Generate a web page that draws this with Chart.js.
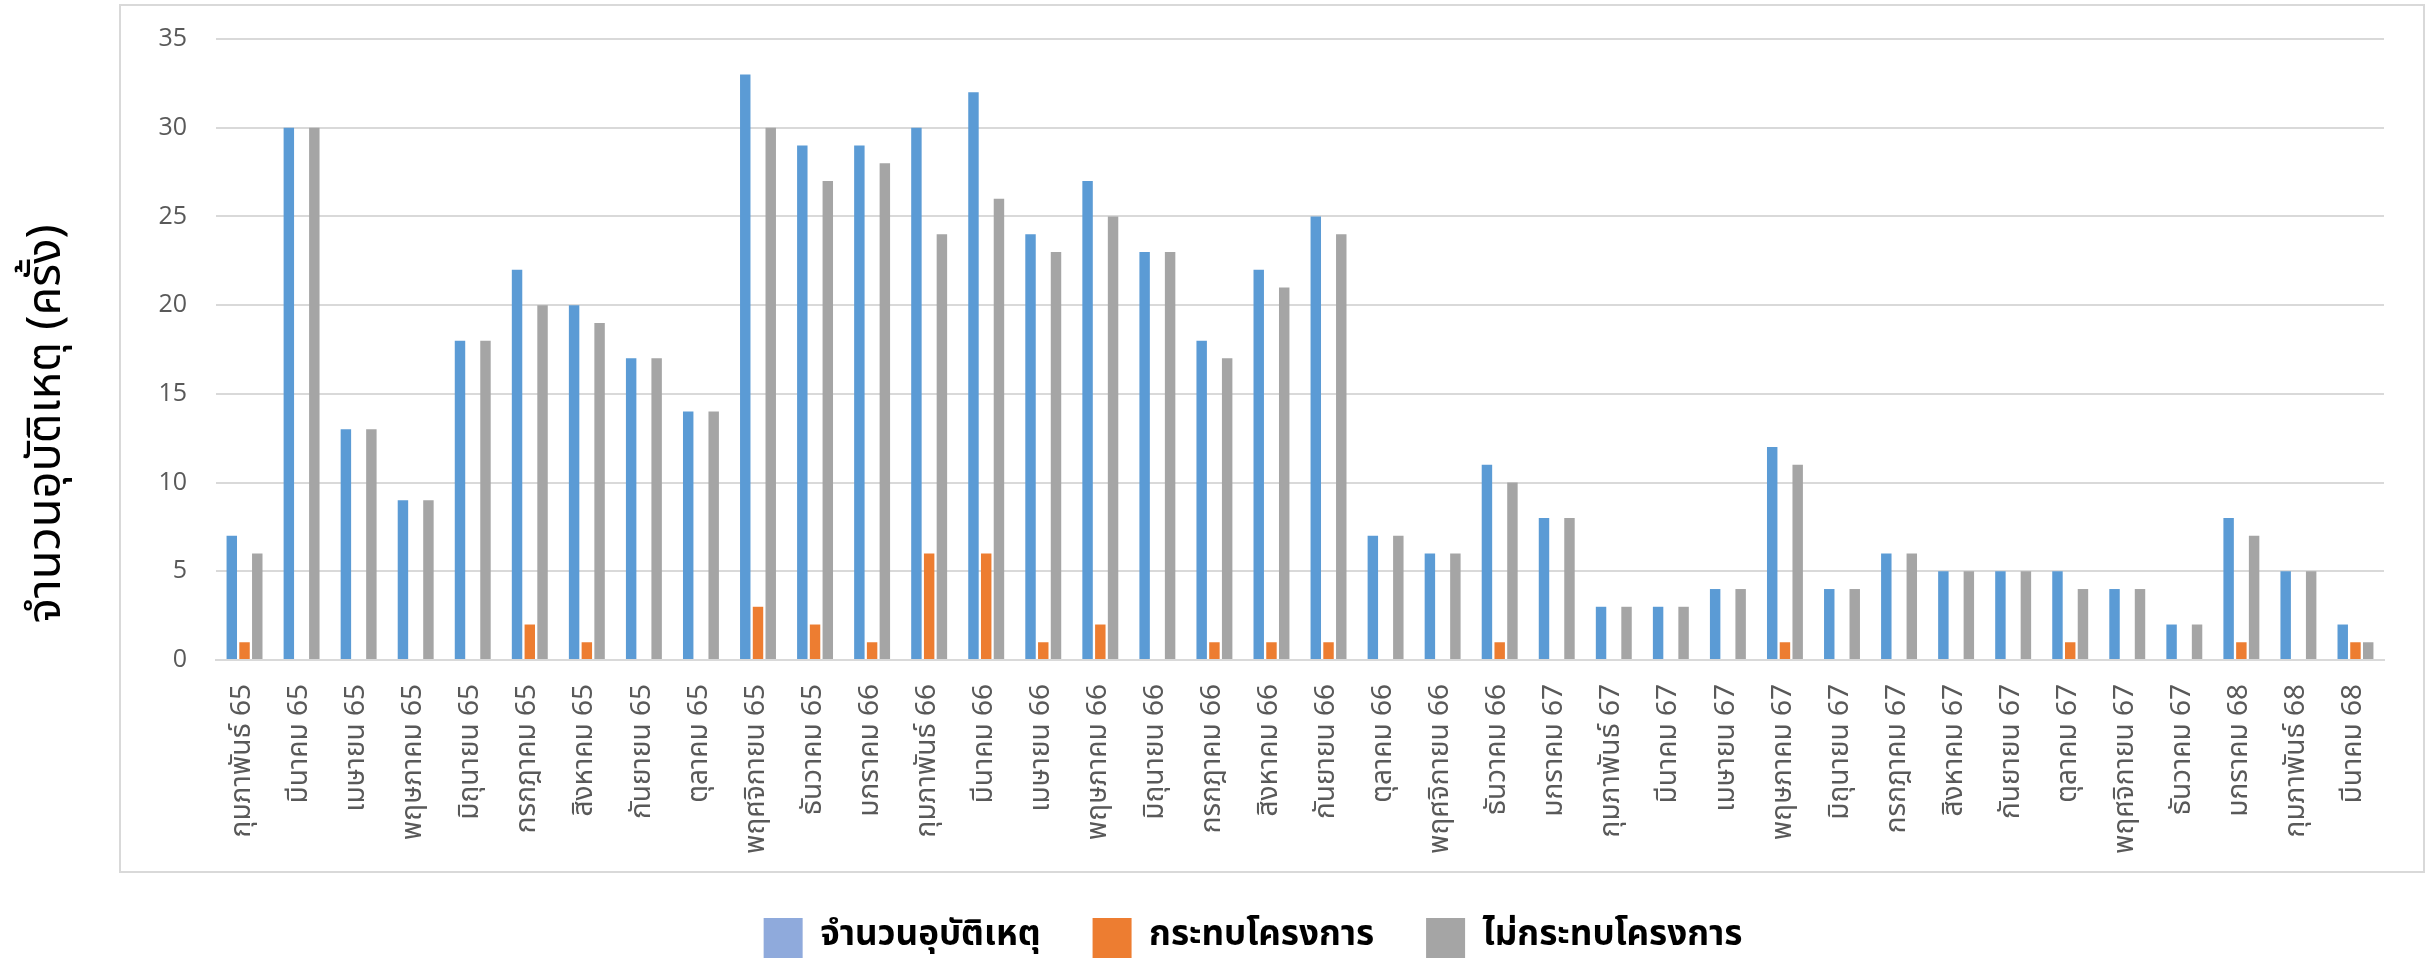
<!DOCTYPE html>
<html>
<head>
<meta charset="utf-8">
<script src="https://cdn.jsdelivr.net/npm/chart.js"></script>
<style>
  html, body { margin: 0; padding: 0; background: #fff; }
  #wrap { position: relative; width: 2430px; height: 962px; }
  #frame { position: absolute; left: 119px; top: 4px; width: 2302px; height: 865px; border: 2px solid #d9d9d9; }
  canvas { position: absolute; left: 0; top: 0; }
</style>
</head>
<body>
<div id="wrap">
  <div id="frame"></div>
  <canvas id="myChart" width="2430" height="962"></canvas>
</div>
<script>
// เดือน (พ.ศ.)
var months = [
    'กุมภาพันธ์ 65', 'มีนาคม 65', 'เมษายน 65', 'พฤษภาคม 65', 'มิถุนายน 65', 'กรกฎาคม 65',
    'สิงหาคม 65', 'กันยายน 65', 'ตุลาคม 65', 'พฤศจิกายน 65', 'ธันวาคม 65', 'มกราคม 66',
    'กุมภาพันธ์ 66', 'มีนาคม 66', 'เมษายน 66', 'พฤษภาคม 66', 'มิถุนายน 66', 'กรกฎาคม 66',
    'สิงหาคม 66', 'กันยายน 66', 'ตุลาคม 66', 'พฤศจิกายน 66', 'ธันวาคม 66', 'มกราคม 67',
    'กุมภาพันธ์ 67', 'มีนาคม 67', 'เมษายน 67', 'พฤษภาคม 67', 'มิถุนายน 67', 'กรกฎาคม 67',
    'สิงหาคม 67', 'กันยายน 67', 'ตุลาคม 67', 'พฤศจิกายน 67', 'ธันวาคม 67', 'มกราคม 68',
    'กุมภาพันธ์ 68', 'มีนาคม 68'
];

var totalAccidents = [7, 30, 13, 9, 18, 22, 20, 17, 14, 33, 29, 29, 30, 32, 24, 27, 23, 18, 22, 25,
    7, 6, 11, 8, 3, 3, 4, 12, 4, 6, 5, 5, 5, 4, 2, 8, 5, 2];
var affectProject = [1, 0, 0, 0, 0, 2, 1, 0, 0, 3, 2, 1, 6, 6, 1, 2, 0, 1, 1, 1,
    0, 0, 1, 0, 0, 0, 0, 1, 0, 0, 0, 0, 1, 0, 0, 1, 0, 1];
var notAffectProject = [6, 30, 13, 9, 18, 20, 19, 17, 14, 30, 27, 28, 24, 26, 23, 25, 23, 17, 21, 24,
    7, 6, 10, 8, 3, 3, 4, 11, 4, 6, 5, 5, 4, 4, 2, 7, 5, 1];

var seriesNames = ['จำนวนอุบัติเหตุ', 'กระทบโครงการ', 'ไม่กระทบโครงการ'];

var thaiFont = "'Noto Sans Thai', 'Noto Sans', sans-serif";

var ctx = document.getElementById('myChart');
var myChart = new Chart(ctx, {
    type: 'bar',
    data: {
        labels: months,
        datasets: [{
            label: seriesNames[0],
            data: totalAccidents,
            backgroundColor: '#5b9bd5'
        }, {
            label: seriesNames[1],
            data: affectProject,
            backgroundColor: '#ed7d31'
        }, {
            label: seriesNames[2],
            data: notAffectProject,
            backgroundColor: '#a5a5a5'
        }]
    },
    options: {
        responsive: false,
        animation: false,
        datasets: {
            bar: {
                categoryPercentage: 0.67,
                barPercentage: 0.82,
                borderWidth: 0
            }
        },
        layout: {
            padding: { left: 122, right: 46, top: 39, bottom: -6 }
        },
        plugins: {
            tooltip: { enabled: false },
            legend: {
                position: 'bottom',
                labels: {
                    boxWidth: 39,
                    boxHeight: 40,
                    padding: 52,
                    color: '#000',
                    font: { family: thaiFont, size: 35, weight: 'bold' },
                    generateLabels: function (chart) {
                        var items = Chart.defaults.plugins.legend.labels.generateLabels(chart);
                        items[0].fillStyle = '#8faadc';
                        items.forEach(function (it) {
                            it.strokeStyle = it.fillStyle;
                            it.lineWidth = 0;
                        });
                        return items;
                    }
                }
            }
        },
        scales: {
            x: {
                grid: { display: false },
                border: { display: true, color: '#d9d9d9', width: 2 },
                ticks: {
                    minRotation: 90,
                    maxRotation: 90,
                    autoSkip: false,
                    padding: 16,
                    color: '#595959',
                    font: { family: thaiFont, size: 28 }
                },
                afterFit: function (scale) { scale.height = 206; }
            },
            y: {
                min: 0,
                max: 35,
                ticks: {
                    stepSize: 5,
                    padding: 8,
                    color: '#595959',
                    font: { family: "'Open Sans', sans-serif", size: 25 }
                },
                grid: { color: '#d9d9d9', lineWidth: 2, tickLength: 21, tickColor: 'rgba(0,0,0,0)' },
                border: { display: false },
                title: {
                    display: true,
                    // ช่องว่างนำหน้าเพื่อยกข้อความขึ้นเล็กน้อย
                    text: '   จำนวนอุบัติเหตุ (ครั้ง)',
                    align: 'start',
                    color: '#000',
                    font: { family: thaiFont, size: 47 },
                    padding: { top: -100, bottom: 0 }
                },
                afterFit: function (scale) { scale.width = 94; }
            }
        }
    }
});
</script>
</body>
</html>
